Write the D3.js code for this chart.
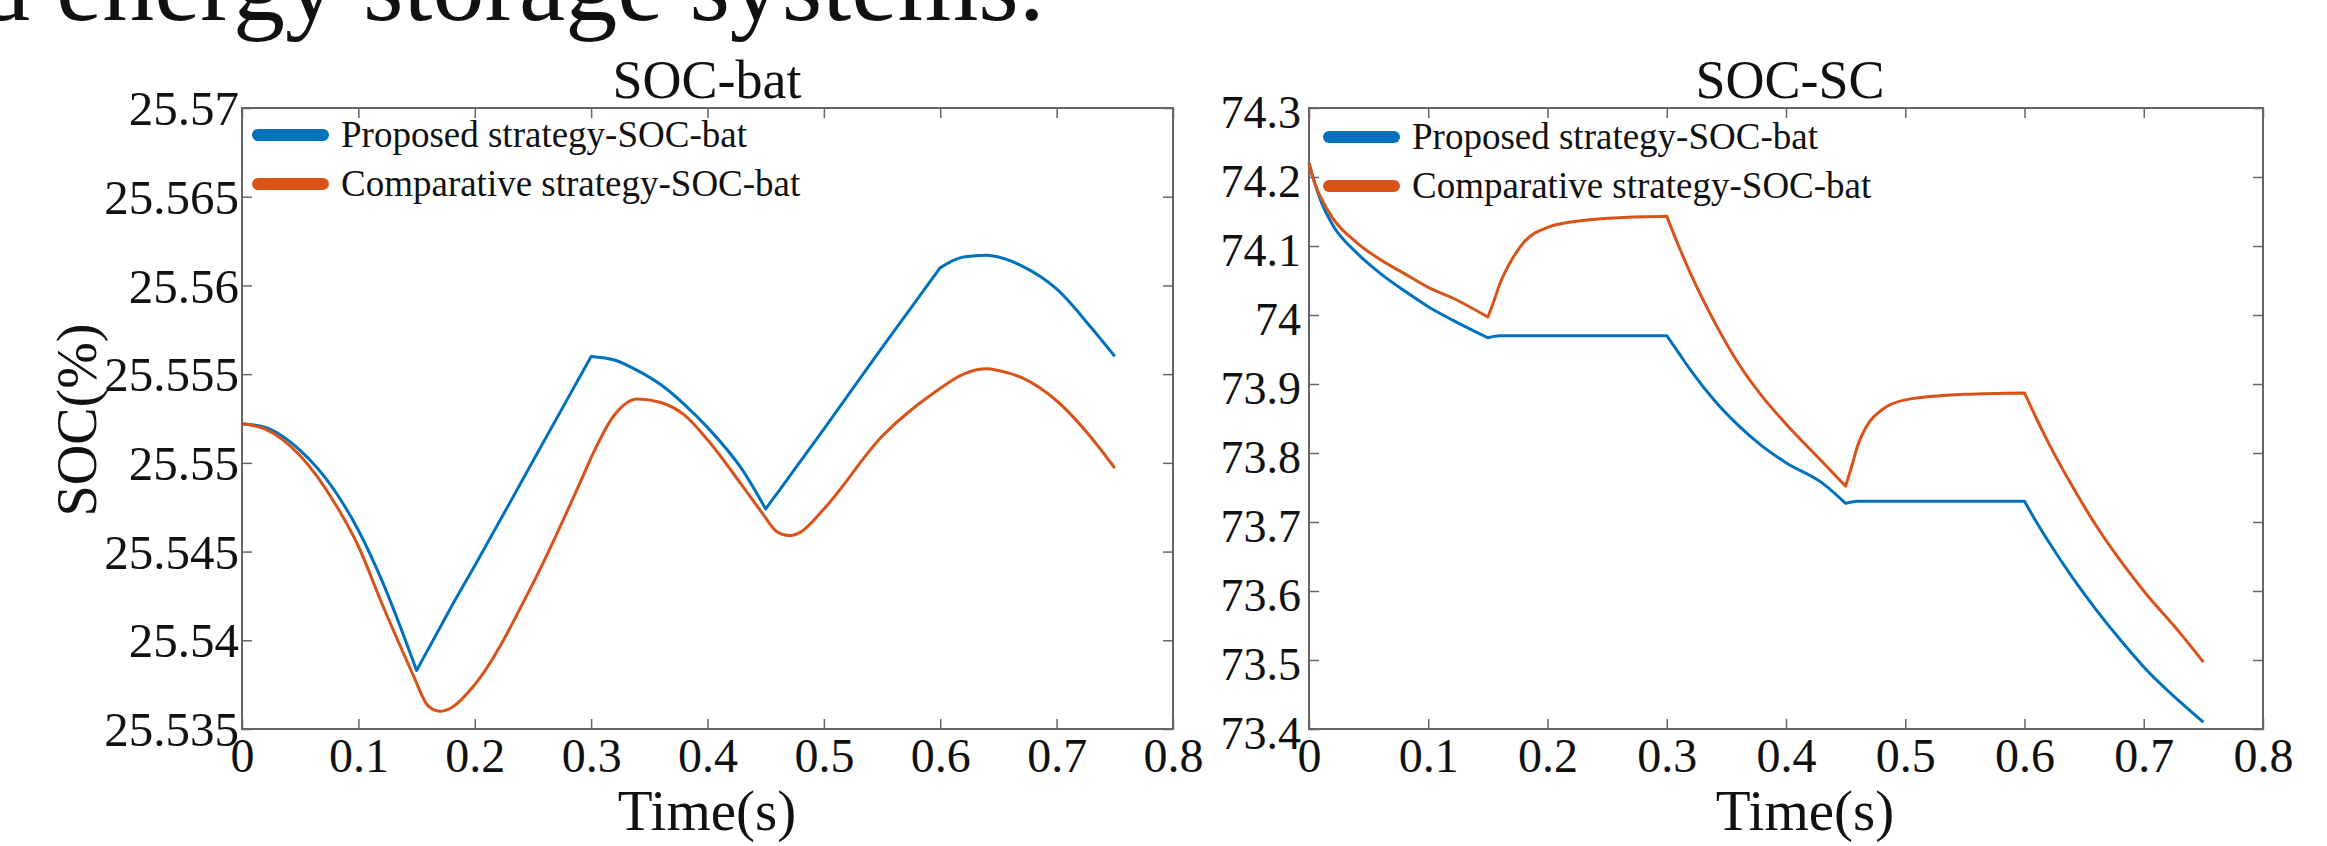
<!DOCTYPE html>
<html>
<head>
<meta charset="utf-8">
<script src="https://cdn.jsdelivr.net/npm/d3@7"></script>
<style>
  body { margin: 0; background: #fff; }
  svg text { font-family: "Liberation Serif", "Times New Roman", Times, serif !important; fill: #111; }
</style>
</head>
<body>
<div id="chart"></div>
<script>
// ---- data ----
var timeBat = [0, 0.02, 0.05, 0.08, 0.1, 0.12, 0.15, 0.16, 0.17, 0.18, 0.2, 0.25, 0.3, 0.32, 0.34, 0.36, 0.38, 0.4,
  0.43, 0.45, 0.46, 0.47, 0.48, 0.5, 0.55, 0.6, 0.62, 0.64, 0.65, 0.67, 0.7, 0.73, 0.75]
var proposedBat = [25.5522, 25.5520, 25.5507, 25.5484, 25.5462, 25.5434, 25.5383, 25.5395, 25.5407, 25.5419, 25.5442,
  25.5501, 25.5560, 25.5558, 25.5552, 25.5544, 25.5533, 25.5520, 25.5496, 25.5474, 25.5483, 25.5492, 25.5501, 25.5519,
  25.5565, 25.5610, 25.5616, 25.5617, 25.5616, 25.5611, 25.5598, 25.5576, 25.5560]
var comparativeBat = [25.5522, 25.5519, 25.5504, 25.5477, 25.5453, 25.5421, 25.5376, 25.5363, 25.5360, 25.5362, 25.5375,
  25.5432, 25.5503, 25.5527, 25.5536, 25.5534, 25.5527, 25.5513, 25.5487, 25.5469, 25.5461, 25.5459, 25.5461, 25.5474,
  25.5515, 25.5542, 25.5550, 25.5553, 25.5552, 25.5548, 25.5535, 25.5514, 25.5497]

var timeSC = [0, 0.005, 0.01, 0.02, 0.04, 0.06, 0.08, 0.1, 0.12, 0.15, 0.155, 0.16, 0.17, 0.18, 0.2, 0.23, 0.26, 0.3,
  0.31, 0.32, 0.34, 0.36, 0.38, 0.4, 0.43, 0.45, 0.455, 0.46, 0.47, 0.48, 0.5, 0.55, 0.6, 0.61, 0.62, 0.64, 0.66, 0.68,
  0.7, 0.73, 0.75]
var proposedSC = [74.22, 74.19, 74.165, 74.13, 74.09, 74.06, 74.035, 74.012, 73.993, 73.967, 73.969, 73.970, 73.970,
  73.970, 73.970, 73.970, 73.970, 73.970, 73.945, 73.92, 73.876, 73.84, 73.81, 73.786, 73.757, 73.727, 73.729, 73.730,
  73.730, 73.730, 73.730, 73.730, 73.730, 73.70, 73.672, 73.62, 73.573, 73.53, 73.49, 73.44, 73.41]
var comparativeSC = [74.22, 74.19, 74.17, 74.14, 74.105, 74.08, 74.06, 74.04, 74.025, 73.997, 74.02, 74.045, 74.08,
  74.105, 74.127, 74.137, 74.141, 74.143, 74.10, 74.06, 73.99, 73.93, 73.882, 73.842, 73.788, 73.752, 73.78, 73.81,
  73.845, 73.862, 73.877, 73.885, 73.887, 73.85, 73.815, 73.752, 73.695, 73.645, 73.60, 73.54, 73.497]

var switchTimes = [0.15, 0.3, 0.45, 0.6]

var xTicks = [0, 0.1, 0.2, 0.3, 0.4, 0.5, 0.6, 0.7, 0.8]
var xTickLabels = ["0", "0.1", "0.2", "0.3", "0.4", "0.5", "0.6", "0.7", "0.8"]
var batTicks = [25.535, 25.54, 25.545, 25.55, 25.555, 25.56, 25.565, 25.57]
var batTickLabels = ["25.535", "25.54", "25.545", "25.55", "25.555", "25.56", "25.565", "25.57"]
var scTicks = [73.4, 73.5, 73.6, 73.7, 73.8, 73.9, 74, 74.1, 74.2, 74.3]
var scTickLabels = ["73.4", "73.5", "73.6", "73.7", "73.8", "73.9", "74", "74.1", "74.2", "74.3"]

var seriesNames = ["Proposed strategy-SOC-bat", "Comparative strategy-SOC-bat"]
var colors = ["#0072BD", "#D95319"]

var serif = '"Liberation Serif", "Times New Roman", Times, serif'

var width = 2327
var height = 846

var svg = d3.select("#chart")
  .append("svg")
    .attr("width", width)
    .attr("height", height)
    .attr("font-family", serif)

// heading line cut off at the top of the page
svg.append("text")
  .attr("x", -22)
  .attr("y", 20)
  .style("font-size", "104px")
  .text("d energy storage systems.")

// split a series at the switching instants so the corners stay sharp
function segments(times, vals) {
  var pts = times.map(function(t, i){ return [t, vals[i]] })
  var bounds = [0].concat(switchTimes, [1])
  var out = []
  for (var i = 0; i < bounds.length - 1; i++) {
    var seg = pts.filter(function(p){ return p[0] >= bounds[i] && p[0] <= bounds[i+1] })
    if (seg.length > 1) out.push(seg)
  }
  return out
}

function drawPanel(opt) {
  var x = d3.scaleLinear().domain([0, 0.8]).range([opt.left, opt.right])
  var y = d3.scaleLinear().domain(opt.yDomain).range([opt.bottom, opt.top])
  var g = svg.append("g")

  // frame
  g.append("rect")
    .attr("x", opt.left).attr("y", opt.top)
    .attr("width", opt.right - opt.left).attr("height", opt.bottom - opt.top)
    .attr("fill", "none").attr("stroke", "#666").attr("stroke-width", 2)

  var bottomAxis = g.append("g")
    .attr("transform", "translate(0," + opt.bottom + ")")
    .call(d3.axisBottom(x).tickValues(xTicks).tickSizeInner(-10).tickSizeOuter(0).tickPadding(9)
      .tickFormat(function(d, i){ return xTickLabels[i] }))
  bottomAxis.selectAll("text").style("font-size", "48px")

  g.append("g")
    .attr("transform", "translate(0," + opt.top + ")")
    .call(d3.axisTop(x).tickValues(xTicks).tickSizeInner(-10).tickSizeOuter(0).tickFormat(""))

  var leftAxis = g.append("g")
    .attr("transform", "translate(" + opt.left + ",0)")
    .call(d3.axisLeft(y).tickValues(opt.yTicks).tickSizeInner(-10).tickSizeOuter(0).tickPadding(opt.yPad)
      .tickFormat(function(d, i){ return opt.yLabels[i] }))
  leftAxis.selectAll("text").style("font-size", opt.yFont + "px").attr("dy", opt.yDy)

  g.append("g")
    .attr("transform", "translate(" + opt.right + ",0)")
    .call(d3.axisRight(y).tickValues(opt.yTicks).tickSizeInner(-10).tickSizeOuter(0).tickFormat(""))

  g.selectAll(".domain").remove()
  g.selectAll(".tick line").attr("stroke", "#666").attr("stroke-width", 1.5)
  g.selectAll("g").attr("font-family", serif)
  g.selectAll(".tick text").style("font-family", serif).attr("fill", "#111")

  // curves
  var line = d3.line()
    .x(function(d){ return x(d[0]) })
    .y(function(d){ return y(d[1]) })
    .curve(d3.curveMonotoneX)

  opt.series.forEach(function(vals, k){
    var segs = segments(opt.times, vals)
    var d = segs.map(function(s, i){
      var p = line(s)
      return i === 0 ? p : "L" + p.slice(1)
    }).join("")
    g.append("path")
      .attr("d", d)
      .attr("fill", "none")
      .attr("stroke", colors[k])
      .attr("stroke-width", 3)
      .attr("stroke-linejoin", "round")
  })

  // legend
  seriesNames.forEach(function(name, k){
    var ly = opt.legendY + k * 49
    g.append("line")
      .attr("x1", opt.legendX).attr("x2", opt.legendX + 65)
      .attr("y1", ly).attr("y2", ly)
      .attr("stroke", colors[k]).attr("stroke-width", 12).attr("stroke-linecap", "round")
    g.append("text")
      .attr("x", opt.legendX + 83)
      .attr("y", ly + 12)
      .style("font-size", "37px")
      .text(name)
  })

  // titles
  g.append("text")
    .attr("x", opt.titleX).attr("y", 98)
    .attr("text-anchor", "middle")
    .style("font-size", "54px")
    .text(opt.title)

  g.append("text")
    .attr("x", opt.xLabelX).attr("y", 830)
    .attr("text-anchor", "middle")
    .style("font-size", "57px")
    .text("Time(s)")
}

drawPanel({
  left: 242, right: 1173, top: 108, bottom: 729,
  yDomain: [25.535, 25.57], yTicks: batTicks, yLabels: batTickLabels, yFont: 49, yPad: 3, yDy: "0.34em",
  times: timeBat, series: [proposedBat, comparativeBat],
  legendX: 258, legendY: 135,
  title: "SOC-bat", titleX: 707, xLabelX: 707
})

drawPanel({
  left: 1309, right: 2263, top: 108, bottom: 729,
  yDomain: [73.4, 74.3], yTicks: scTicks, yLabels: scTickLabels, yFont: 46, yPad: 8, yDy: "0.42em",
  times: timeSC, series: [proposedSC, comparativeSC],
  legendX: 1329, legendY: 137,
  title: "SOC-SC", titleX: 1790, xLabelX: 1805
})

// y label of the left panel
svg.append("text")
  .attr("transform", "translate(96,420) rotate(-90)")
  .attr("text-anchor", "middle")
  .style("font-size", "56px")
  .text("SOC(%)")
</script>
</body>
</html>
